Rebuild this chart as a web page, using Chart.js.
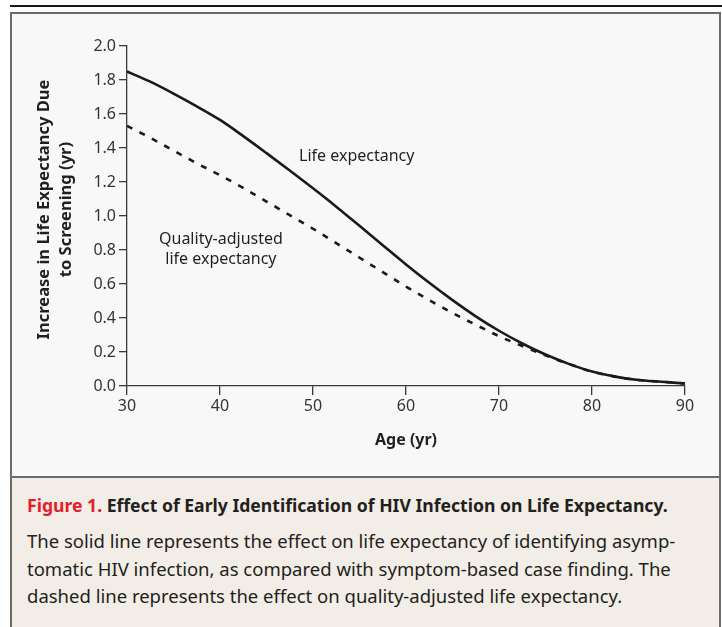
<!DOCTYPE html>
<html>
<head>
<meta charset="utf-8">
<title>Effect of Early Identification of HIV Infection on Life Expectancy</title>
<script src="https://cdn.jsdelivr.net/npm/chart.js@4.4.1/dist/chart.umd.min.js"></script>
<style>
  html, body {
    margin: 0;
    padding: 0;
    background: #ffffff;
    width: 722px;
    height: 627px;
    overflow: hidden;
    position: relative;
    font-family: "Noto Sans", "Open Sans", sans-serif;
  }
  .top-rule {
    position: absolute;
    left: 10px;
    top: 5px;
    width: 712px;
    height: 2px;
    background: #1a1a1a;
  }
  .frame {
    position: absolute;
    left: 10px;
    top: 12px;
    width: 707px;
    height: 640px;
    border: 2px solid #6b6b6b;
    background: #f8f8f8;
  }
  .caption {
    position: absolute;
    left: 12px;
    top: 476px;
    width: 707px;
    height: 170px;
    border-top: 2px solid #6b6b6b;
    background: #f2ede6;
    color: #231f20;
  }
  .caption .head {
    position: absolute;
    left: 15px;
    top: 15px;
    font-size: 17.6px;
    font-weight: bold;
    white-space: nowrap;
  }
  .caption .head .fig {
    color: #e2202c;
  }
  .caption .body {
    position: absolute;
    left: 15px;
    top: 49px;
    font-size: 18.5px;
    line-height: 27.5px;
    white-space: nowrap;
  }
  #chart {
    position: absolute;
    left: 0;
    top: 0;
  }
</style>
</head>
<body>
<div class="top-rule"></div>
<div class="frame"></div>
<div class="caption">
  <div class="head"><span class="fig">Figure 1.</span> Effect of Early Identification of HIV Infection on Life Expectancy.</div>
  <div class="body">The solid line represents the effect on life expectancy of identifying asymp-<br>tomatic HIV infection, as compared with symptom-based case finding. The<br>dashed line represents the effect on quality-adjusted life expectancy.</div>
</div>
<canvas id="chart" width="722" height="476"></canvas>

<script>
// 数据
const ages = [30, 32.5, 35, 37.5, 40, 42.5, 45, 47.5, 50, 52.5, 55, 57.5, 60,
              62.5, 65, 67.5, 70, 72.5, 75, 77.5, 80, 82.5, 85, 87.5, 90];
const lifeExpectancy = [1.85, 1.79, 1.72, 1.645, 1.565, 1.47, 1.37, 1.268, 1.163, 1.055, 0.942, 0.828, 0.715,
                        0.607, 0.505, 0.41, 0.325, 0.25, 0.185, 0.13, 0.085, 0.055, 0.035, 0.025, 0.015];
const qualityAdjusted = [1.53, 1.46, 1.385, 1.31, 1.24, 1.165, 1.085, 1.005, 0.925, 0.84, 0.755, 0.67, 0.585,
                         0.505, 0.43, 0.36, 0.293, 0.235, 0.18, 0.13, 0.085, 0.055, 0.035, 0.025, 0.015];
const xTicks = [30, 40, 50, 60, 70, 80, 90];
const yTicks = [0.0, 0.2, 0.4, 0.6, 0.8, 1.0, 1.2, 1.4, 1.6, 1.8, 2.0];

// 曲线旁的文字标注（数据坐标）
const curveLabels = [
    { lines: ['Life expectancy'], x: 54.7, y: 1.35 },
    { lines: ['Quality-adjusted', 'life expectancy'], x: 40.1, y: 0.865 }
];

const TEXT_COLOR = '#231f20';
const AXIS_COLOR = '#3a3a3a';
const FONT_FAMILY = '"Noto Sans", "Open Sans", sans-serif';

function toPoints(values) {
    return ages.map((a, i) => ({ x: a, y: values[i] }));
}

// 在曲线旁绘制标注文字
const curveLabelPlugin = {
    id: 'curveLabels',
    afterDatasetsDraw(chart) {
        const { ctx, scales } = chart;
        ctx.save();
        ctx.fillStyle = TEXT_COLOR;
        ctx.font = '16px ' + FONT_FAMILY;
        ctx.textAlign = 'center';
        ctx.textBaseline = 'middle';
        curveLabels.forEach(label => {
            const px = scales.x.getPixelForValue(label.x);
            const py = scales.y.getPixelForValue(label.y);
            label.lines.forEach((line, i) => {
                ctx.fillText(line, px, py + i * 20);
            });
        });
        ctx.restore();
    }
};

const tickFont = { family: FONT_FAMILY, size: 16 };

new Chart(document.getElementById('chart').getContext('2d'), {
    type: 'line',
    data: {
        datasets: [
            {
                label: 'Life expectancy',
                data: toPoints(lifeExpectancy),
                borderColor: '#1a1a1a',
                borderWidth: 2.6,
                pointRadius: 0,
                cubicInterpolationMode: 'monotone',
                fill: false
            },
            {
                label: 'Quality-adjusted life expectancy',
                data: toPoints(qualityAdjusted),
                borderColor: '#1a1a1a',
                borderWidth: 2.6,
                borderDash: [6, 8],
                pointRadius: 0,
                cubicInterpolationMode: 'monotone',
                fill: false
            }
        ]
    },
    options: {
        responsive: false,
        animation: false,
        layout: {
            padding: { left: 0, top: 46, right: 37, bottom: 0 }
        },
        plugins: {
            legend: { display: false },
            tooltip: { enabled: false }
        },
        scales: {
            x: {
                type: 'linear',
                min: 30,
                max: 90,
                afterBuildTicks: s => { s.ticks = xTicks.map(v => ({ value: v })); },
                afterFit: s => { s.height = 90; },
                grid: {
                    drawOnChartArea: false,
                    color: AXIS_COLOR,
                    lineWidth: 1.3,
                    tickLength: 9
                },
                border: { color: AXIS_COLOR, width: 1.3 },
                ticks: {
                    font: tickFont,
                    color: '#333333',
                    padding: 2,
                    maxRotation: 0
                },
                title: {
                    display: true,
                    text: 'Age (yr)',
                    color: TEXT_COLOR,
                    font: { family: FONT_FAMILY, size: 16, weight: 'bold' },
                    padding: { top: 0, bottom: 26 }
                }
            },
            y: {
                type: 'linear',
                min: 0,
                max: 2,
                afterBuildTicks: s => { s.ticks = yTicks.map(v => ({ value: v })); },
                afterFit: s => { s.width = 127; },
                grid: {
                    drawOnChartArea: false,
                    color: AXIS_COLOR,
                    lineWidth: 1.3,
                    tickLength: 8
                },
                border: { color: AXIS_COLOR, width: 1.3 },
                ticks: {
                    font: tickFont,
                    color: '#333333',
                    padding: 3,
                    callback: v => Number(v).toFixed(1)
                },
                title: {
                    display: true,
                    // 前导空格让标题整体略微上移，与原图居中位置一致
                    text: ['   Increase in Life Expectancy Due', '   to Screening (yr)'],
                    color: TEXT_COLOR,
                    font: { family: FONT_FAMILY, size: 16.5, weight: 'bold', lineHeight: 1.35 },
                    padding: { top: 33, bottom: 0 }
                }
            }
        }
    },
    plugins: [curveLabelPlugin]
});
</script>
</body>
</html>
